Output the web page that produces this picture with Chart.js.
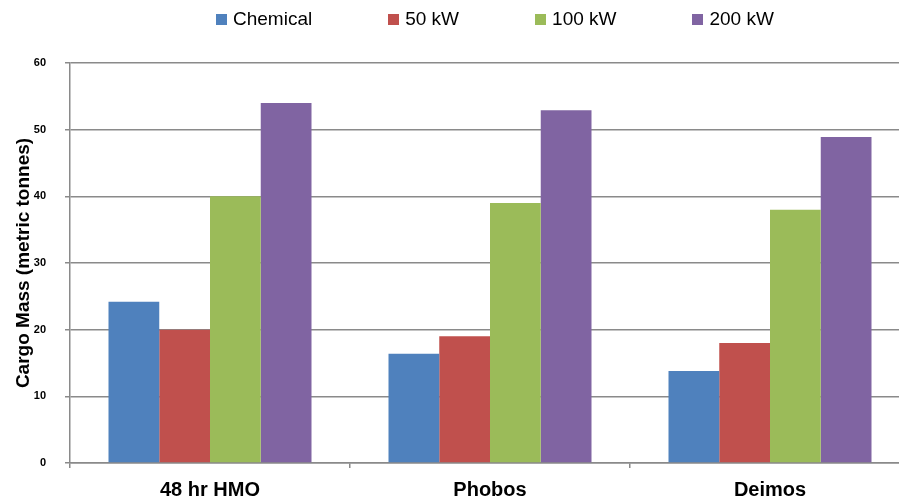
<!DOCTYPE html>
<html>
<head>
<meta charset="utf-8">
<script src="https://cdn.jsdelivr.net/npm/chart.js@4.4.1/dist/chart.umd.min.js"></script>
<style>
  html, body { margin: 0; padding: 0; background: #fff; overflow: hidden; }
  #wrap { position: relative; width: 910px; height: 499px; }
  #legend {
    position: absolute; left: 216px; top: 8px;
    display: flex; gap: 76px;
    font-family: "Liberation Sans", Arial, sans-serif; font-size: 19px; color: #000;
  }
  #legend span.item { display: flex; align-items: center; white-space: nowrap; }
  #legend span.box { width: 11px; height: 11px; margin-right: 6px; display: inline-block; }
</style>
</head>
<body>
<div id="wrap">
  <div id="legend"></div>
  <canvas id="cargoChart"></canvas>
</div>
<script>
const categories = ["48 hr HMO", "Phobos", "Deimos"];
const seriesNames = ["Chemical", "50 kW", "100 kW", "200 kW"];
const chemical = [24.2, 16.4, 13.8];
const kw50 = [20, 19, 18];
const kw100 = [40, 39, 38];
const kw200 = [54, 52.9, 48.9];
const yTicks = [0, 10, 20, 30, 40, 50, 60];
const colors = ["#4F81BD", "#C0504D", "#9BBB59", "#8064A2"];

const seriesValues = [chemical, kw50, kw100, kw200];
const gridColor = "#8a8a8a";

let datasets = seriesNames.map((name, i) => ({
  label: name,
  data: seriesValues[i],
  backgroundColor: colors[i],
  barPercentage: 1.0,
  categoryPercentage: 0.725,
}));

let cargoChart = new Chart(document.getElementById("cargoChart"), {
  type: "bar",
  data: { labels: categories, datasets: datasets },
  options: {
    responsive: true,
    maintainAspectRatio: false,
    animation: false,
    layout: { padding: { top: 63, right: 0, bottom: 0, left: 0 } },
    plugins: {
      legend: { display: false },
      tooltip: { enabled: false },
    },
    scales: {
      x: {
        grid: {
          offset: true,
          drawOnChartArea: false,
          drawTicks: true,
          tickLength: 5,
          color: gridColor,
          lineWidth: 1.5,
        },
        border: { display: true, color: gridColor, width: 1.5 },
        ticks: {
          color: "#000",
          padding: 10,
          font: { family: "'Liberation Sans', Arial, sans-serif", size: 20, weight: "bold" },
        },
        afterFit: (scale) => { scale.height = 36; },
      },
      y: {
        min: 0,
        max: 60,
        afterBuildTicks: (scale) => {
          scale.ticks = yTicks.map((v) => ({ value: v }));
        },
        grid: {
          color: gridColor,
          lineWidth: 1.5,
          drawTicks: true,
          tickLength: 5,
        },
        border: { display: true, color: gridColor, width: 1.5 },
        ticks: {
          color: "#000",
          padding: 19,
          font: { family: "'Liberation Sans', Arial, sans-serif", size: 11, weight: "bold" },
        },
        title: {
          display: true,
          text: "Cargo Mass (metric tonnes)",
          color: "#000",
          font: { family: "'Liberation Sans', Arial, sans-serif", size: 19, weight: "bold" },
          padding: { top: 12, bottom: 0 },
        },
        afterFit: (scale) => { scale.width = 70; },
      },
    },
  },
});

// legend as html text
let legendBox = document.getElementById("legend");
seriesNames.forEach((name, i) => {
  let item = document.createElement("span");
  item.className = "item";
  item.innerHTML = `<span class="box" style="background:${colors[i]}"></span>${name}`;
  legendBox.append(item);
});
</script>
</body>
</html>
